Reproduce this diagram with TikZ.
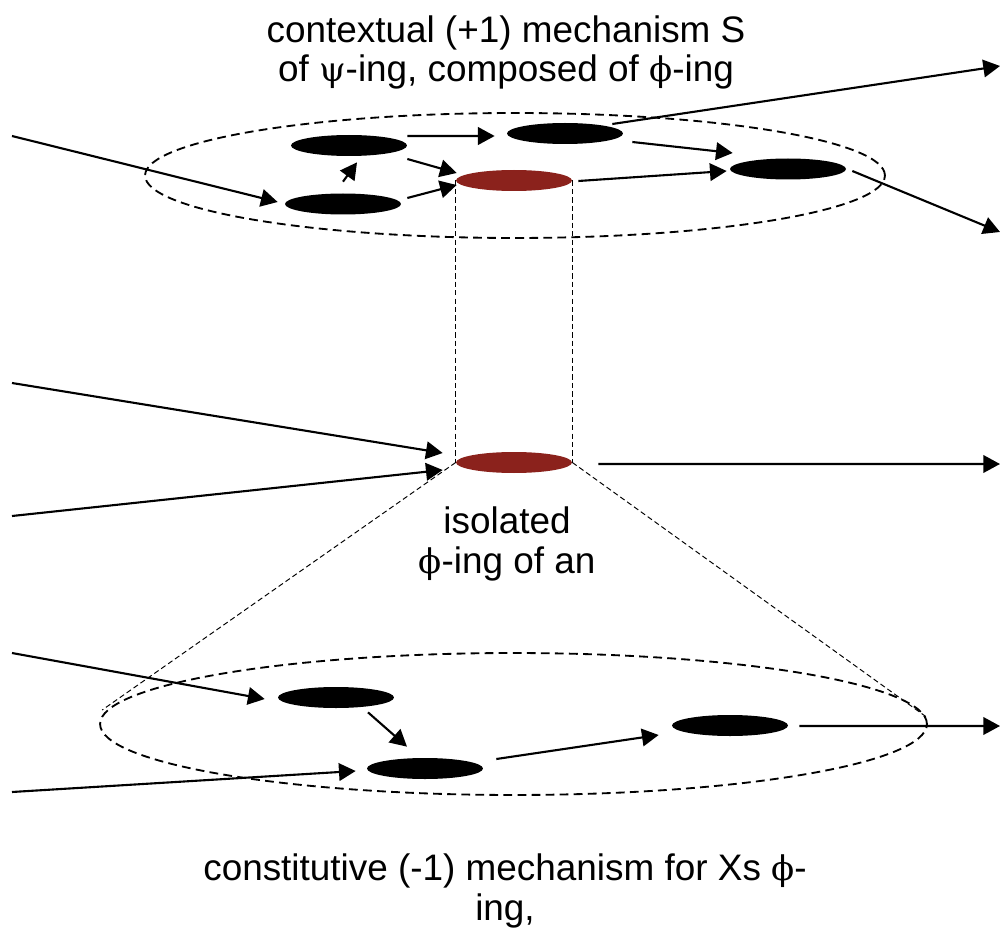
\documentclass[tikz,border=0pt]{standalone}
\usepackage{fontspec}
\setmainfont{Liberation Sans}
\newfontfamily\grk{DejaVu Serif}[Scale=0.92]
\usetikzlibrary{arrows.meta,shapes.geometric}
\definecolor{mechred}{RGB}{139,34,28}
\newcommand{\gpsi}{{\grk ψ}}
\newcommand{\gphi}{{\grk ϕ}}
\tikzset{
  blob/.style={ellipse,fill=black,draw=none,inner sep=0pt,minimum width=2.32cm,minimum height=0.42cm},
  redblob/.style={ellipse,fill=mechred,draw=none,inner sep=0pt,minimum width=2.32cm,minimum height=0.42cm},
  mechring/.style={ellipse,draw=black,dash pattern=on 5pt off 3pt,line width=1.05pt,inner sep=0pt},
  guide/.style={draw=black,dash pattern=on 3pt off 1.8pt,line width=0.55pt},
  arr/.style={draw=black,line width=1.2pt,-{Triangle[length=9.5pt,width=10pt]}},
  lbl/.style={align=center,font=\fontsize{21pt}{22.68pt}\selectfont,inner sep=0pt,anchor=base}
}
\begin{document}
\begin{tikzpicture}[x=0.02cm,y=-0.02cm]
\useasboundingbox (0,0) rectangle (1000,932);
% dashed mechanism rings
\node[mechring,minimum width=14.8cm,minimum height=2.5cm] (Top) at (515,175.5) {};
\node[mechring,minimum width=16.54cm,minimum height=2.84cm] (Bot) at (513.5,724) {};
% top mechanism entities
\node[blob] (A) at (349,145.5) {};
\node[blob] (B) at (343,204) {};
\node[blob] (C) at (565,133.5) {};
\node[blob] (D) at (788,169) {};
\node[redblob] (R1) at (514,180.5) {};
% isolated entity
\node[redblob] (R2) at (514,462.5) {};
% bottom mechanism entities
\node[blob] (E) at (336,697.5) {};
\node[blob] (F) at (425,768.5) {};
\node[blob] (G) at (730,725.5) {};
% free ends
\coordinate (in1) at (12,136);
\coordinate (in2) at (12,383);
\coordinate (in3) at (12,516);
\coordinate (in4) at (12,653);
\coordinate (in5) at (12,792);
\coordinate (out1) at (1000,66);
\coordinate (out2) at (1000,232);
\coordinate (out3) at (1000,464);
\coordinate (out4) at (1000,726);
% guide lines (cylinder and cone)
\draw[guide] (R1.west) -- (R2.west);
\draw[guide] (R1.east) -- (R2.east);
\draw[guide] (R2.west) -- ([shift={(3,-14)}]Bot.west);
\draw[guide] (R2.east) -- ([shift={(0,-6)}]Bot.east);
% top arrows
\draw[arr] (in1) -- ([shift={(-7,-2)}]B.west);
\draw[arr] ([shift={(0,-11.5)}]B.north) -- ([shift={(8,6)}]A.south);
\draw[arr] ([shift={(0,-9.5)}]A.east) -- ([shift={(-12,2.5)}]C.west);
\draw[arr] ([shift={(0,13.5)}]A.east) -- ([shift={(1,-7.5)}]R1.west);
\draw[arr] ([shift={(6,-6)}]B.east) -- ([shift={(1,4.5)}]R1.west);
\draw[arr] ([shift={(9,8.5)}]C.east) -- ([shift={(3,-16)}]D.west);
\draw[arr] ([shift={(6,0.5)}]R1.east) -- ([shift={(-3,2)}]D.west);
\draw[arr] ([shift={(-11,-9.5)}]C.east) -- (out1);
\draw[arr] ([shift={(6,2)}]D.east) -- (out2);
% middle arrows
\draw[arr] (in2) -- ([shift={(-13,-9.5)}]R2.west);
\draw[arr] (in3) -- ([shift={(-13,7.5)}]R2.west);
\draw[arr] ([shift={(26,1.5)}]R2.east) -- (out3);
% bottom arrows
\draw[arr] (in4) -- ([shift={(-13,1.5)}]E.west);
\draw[arr] (in5) -- ([shift={(-11,2.5)}]F.west);
\draw[arr] ([shift={(32,4)}]E.south) -- ([shift={(-18,-11)}]F.north);
\draw[arr] ([shift={(13,-9.5)}]F.east) -- ([shift={(-13,9.5)}]G.west);
\draw[arr] ([shift={(11,0.5)}]G.east) -- (out4);
% labels (base anchor = baseline of the last line)
\node[lbl] (ttop) at (506,82) {contextual (+1) mechanism S\\of \gpsi-ing, composed of \gphi-ing};
\node[lbl] (tmid) at (507,573) {isolated\\\gphi-ing of an};
\node[lbl] (tbot) at (505,920) {constitutive (-1) mechanism for Xs \gphi-\\ing,};
\end{tikzpicture}
\end{document}
